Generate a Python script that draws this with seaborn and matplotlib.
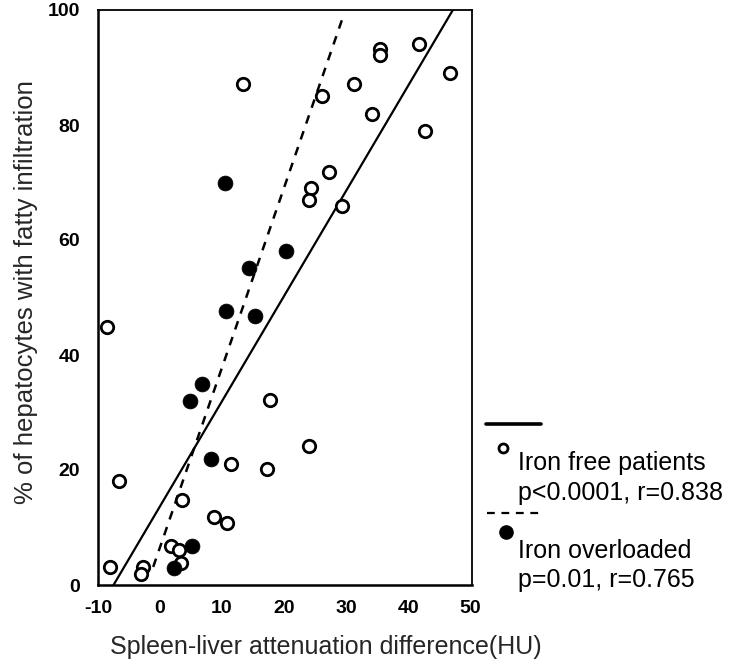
import numpy as np
import pandas as pd
import matplotlib
matplotlib.use("Agg")
import matplotlib.pyplot as plt
from matplotlib.lines import Line2D
import seaborn as sns

# ---- data ----
iron_free_x = [13.3, 35.4, 35.4, 41.8, 46.7, 31.3, 26.1, 34.2, 42.8, 27.3, 24.4, 24.1, 29.4,
               -8.6, 17.8, 24.0, 11.5, 17.3, -6.6, 3.6, 8.7, 10.8, 1.8, 3.0, 3.4, -8.0, -2.7, -3.1]
iron_free_y = [87.1, 93.2, 92.2, 94.1, 89.1, 87.1, 85.0, 81.9, 79.0, 71.9, 69.0, 67.0, 65.9,
               44.8, 32.1, 24.1, 21.0, 20.1, 18.1, 14.8, 11.9, 10.8, 6.8, 6.1, 3.9, 3.1, 3.1, 2.0]

iron_over_x = [10.5, 20.3, 14.4, 10.6, 15.3, 6.8, 4.8, 8.2, 5.2, 2.3]
iron_over_y = [69.9, 58.1, 55.1, 47.7, 46.8, 34.9, 32.0, 22.0, 6.8, 3.0]

# regression lines (slope, intercept, x-range)
free_fit = (1.828, 13.7)
free_fit_x = [-7.5, 47.2]
over_fit = (3.126, 6.58)
over_fit_x = [-1.1, 29.6]

x_ticks = [-10, 0, 10, 20, 30, 40, 50]
y_ticks = [0, 20, 40, 60, 80, 100]

legend_labels = ["Iron free patients", "p<0.0001, r=0.838",
                 "Iron overloaded", "p=0.01, r=0.765"]
x_label = "Spleen-liver attenuation difference(HU)"
y_label = "% of hepatocytes with fatty infiltration"

# ---- styling ----
sns.set_style("white")
plt.rcParams['font.family'] = ['Liberation Sans', 'DejaVu Sans']

W, H = 740, 672
fig = plt.figure(figsize=(W / 100, H / 100), dpi=100)
ax = fig.add_axes([98 / W, 1 - 585 / H, (472 - 98) / W, (585 - 10) / H])

df_free = pd.DataFrame({"x": iron_free_x, "y": iron_free_y})
df_over = pd.DataFrame({"x": iron_over_x, "y": iron_over_y})

fx = np.array(free_fit_x)
ox = np.array(over_fit_x)
sns.lineplot(x=fx, y=free_fit[0] * fx + free_fit[1], ax=ax, color="black", lw=1.6, zorder=2)
sns.lineplot(x=ox, y=over_fit[0] * ox + over_fit[1], ax=ax, color="black", lw=1.8,
             linestyle=(0, (3.5, 3.2)), zorder=2)

sns.scatterplot(data=df_free, x="x", y="y", ax=ax, marker="o", s=80,
                facecolor="white", edgecolor="black", linewidth=2.0, zorder=3)
sns.scatterplot(data=df_over, x="x", y="y", ax=ax, marker="o", s=115,
                color="black", edgecolor="black", linewidth=0.5, zorder=3)

ax.set_xlim(-10, 50.3)
ax.set_ylim(0, 100)
ax.set_xticks(x_ticks)
ax.set_yticks(y_ticks)
ax.set_xticklabels([str(t) for t in x_ticks])
ax.set_yticklabels([str(t) for t in y_ticks])
ax.tick_params(axis="both", direction="out", length=3, width=3, color="black",
               labelsize=14, labelcolor="black")
ax.tick_params(axis="x", pad=8)
ax.tick_params(axis="y", pad=10)
for lab in ax.get_xticklabels() + ax.get_yticklabels():
    lab.set_fontweight("bold")

for side in ["left", "bottom"]:
    ax.spines[side].set_linewidth(1.8)
for side in ["top", "right"]:
    ax.spines[side].set_linewidth(1.3)
for s in ax.spines.values():
    s.set_color("black")
    s.set_visible(True)

ax.set_xlabel(x_label, fontsize=18, ha="center", va="center")
ax.xaxis.set_label_coords((326 - 98) / 374, (585 - 647) / 575)
ax.set_ylabel(y_label, fontsize=18.5, ha="center", va="center")
ax.yaxis.set_label_coords((26 - 98) / 374, (585 - 292) / 575)

# ---- legend drawn to the right of the axes ----
def fx_(px):
    return px / W

def fy_(py):
    return 1 - py / H

fig.add_artist(Line2D([fx_(486), fx_(541)], [fy_(424), fy_(424)], color="black", lw=2.6,
                      transform=fig.transFigure))
fig.add_artist(Line2D([fx_(487), fx_(542)], [fy_(513), fy_(513)], color="black", lw=1.6,
                      linestyle=(0, (3.5, 3.0)), transform=fig.transFigure))
fig.add_artist(Line2D([fx_(503)], [fy_(448)], marker="o", markersize=6.5, markerfacecolor="white",
                      markeredgecolor="black", markeredgewidth=2.0, linestyle="none",
                      transform=fig.transFigure))
fig.add_artist(Line2D([fx_(506)], [fy_(532)], marker="o", markersize=9.5, markerfacecolor="black",
                      markeredgecolor="black", linestyle="none", transform=fig.transFigure))

for label, py in zip(legend_labels, [463, 493, 551, 580]):
    fig.text(fx_(518), fy_(py), label, fontsize=18, ha="left", va="center", color="black")

fig.savefig("out.png", dpi=100)
